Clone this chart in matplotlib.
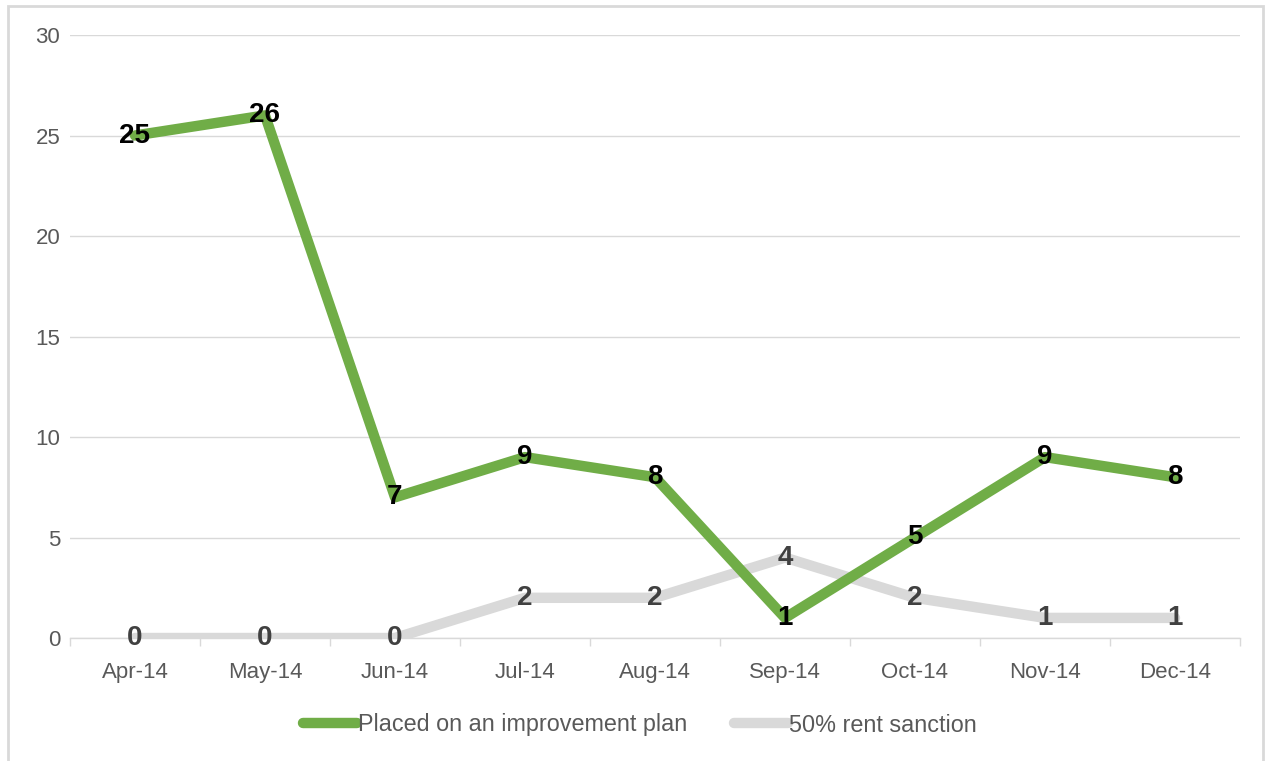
import matplotlib
matplotlib.use("Agg")
import matplotlib.pyplot as plt
from matplotlib.patches import Rectangle

plt.rcParams['font.family'] = ['Liberation Sans', 'DejaVu Sans']

months = ["Apr-14", "May-14", "Jun-14", "Jul-14", "Aug-14", "Sep-14", "Oct-14", "Nov-14", "Dec-14"]
improvement = [25, 26, 7, 9, 8, 1, 5, 9, 8]
sanction = [0, 0, 0, 2, 2, 4, 2, 1, 1]
series_names = ["Placed on an improvement plan", "50% rent sanction"]
yticks = [0, 5, 10, 15, 20, 25, 30]

green = "#70AD47"
grey = "#D9D9D9"

fig = plt.figure(figsize=(12.65, 7.61), dpi=100)
ax = fig.add_axes([70/1265, 1-638/761, (1240-70)/1265, (638-35)/761])

x = list(range(len(months)))
l2, = ax.plot(x, sanction, color=grey, lw=7.5, solid_capstyle='round', solid_joinstyle='round', zorder=3, label=series_names[1])
l1, = ax.plot(x, improvement, color=green, lw=7.5, solid_capstyle='round', solid_joinstyle='round', zorder=4, label=series_names[0])

for xi, v in zip(x, sanction):
    ax.text(xi, v, str(v), ha='center', va='center', fontsize=20, fontweight='bold', color='#404040', zorder=5)
for xi, v in zip(x, improvement):
    ax.text(xi, v, str(v), ha='center', va='center', fontsize=20, fontweight='bold', color='black', zorder=6)

ax.set_xlim(-0.5, len(months)-0.5)
ax.set_ylim(0, 30)
ax.set_yticks(yticks)
ax.set_xticks(x)
ax.set_xticklabels(months)
ax.set_xticks([i-0.5 for i in range(len(months)+1)], minor=True)
ax.tick_params(axis='x', which='major', length=0, pad=17, labelsize=16, labelcolor='#595959')
ax.tick_params(axis='x', which='minor', length=6, color='#D9D9D9', width=1)
ax.tick_params(axis='y', length=0, pad=7, labelsize=16, labelcolor='#595959')
ax.grid(axis='y', color='#D9D9D9', lw=1)
ax.set_axisbelow(True)
for s in ['top', 'right', 'left']:
    ax.spines[s].set_visible(False)
ax.spines['bottom'].set_color('#D9D9D9')
ax.spines['bottom'].set_linewidth(1)

leg = fig.legend(handles=[l1, l2], loc='center', bbox_to_anchor=(640/1265, 1-725/761), ncol=2,
                 frameon=False, fontsize=16.8, handlelength=2.3, handletextpad=0.05, columnspacing=2.0)
for t in leg.get_texts():
    t.set_color('#595959')

# outer chart border
fig.patches.append(Rectangle((8/1265, -0.01), (1263-8)/1265, 1-6/761+0.01, transform=fig.transFigure,
                             fill=False, edgecolor='#D9D9D9', lw=2))

fig.savefig("out.png", dpi=100)
